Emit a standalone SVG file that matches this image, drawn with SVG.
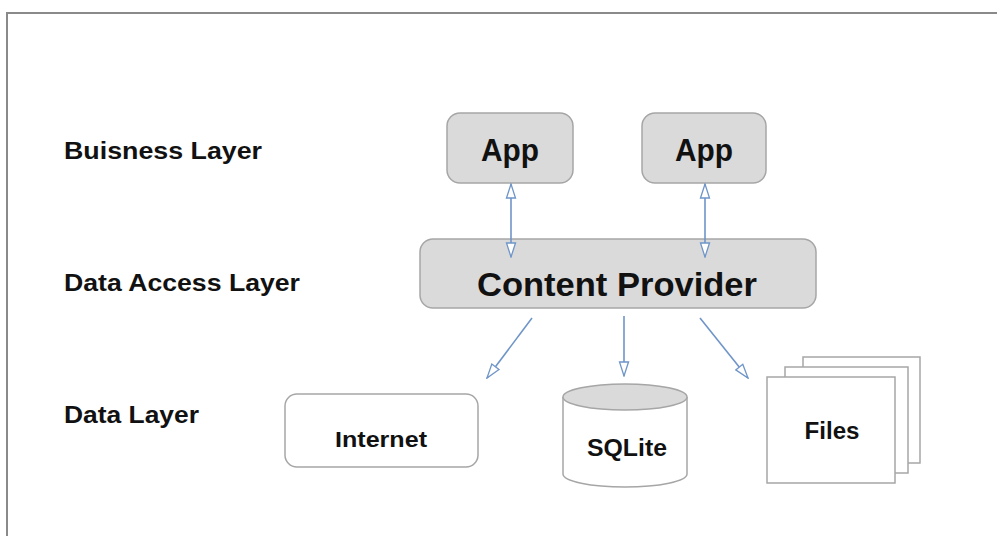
<svg xmlns="http://www.w3.org/2000/svg" width="997" height="536" viewBox="0 0 997 536">
  <defs>
    <marker id="open-tri-lg" viewBox="0 0 16 12" refX="15" refY="6" markerWidth="16" markerHeight="12" markerUnits="userSpaceOnUse" orient="auto-start-reverse">
      <path d="M1,1.5 L15,6 L1,10.5 Z" fill="#ffffff" stroke="#6f95c8" stroke-width="1.3"/>
    </marker>
  </defs>
  <style>
    .frame { fill: #ffffff; stroke: #8a8a8a; stroke-width: 2; }
    .box { fill: #dadada; stroke: #a6a6a6; stroke-width: 1.5; }
    .plain { fill: #ffffff; stroke: #a6a6a6; stroke-width: 1.5; }
    .label { font-family: "Liberation Sans", Arial, sans-serif; font-weight: bold; fill: #111111; }
    .link { fill: none; stroke: #6f95c8; stroke-width: 1.6; }
  </style>

  <rect x="0" y="0" width="997" height="536" fill="#ffffff"/>
  <path class="frame" d="M7,540 L7,13 L1000,13"/>

  <!-- layer captions -->
  <g id="layer-labels">
    <text class="label" x="64" y="159" font-size="23.5" textLength="198" lengthAdjust="spacingAndGlyphs">Buisness Layer</text>
    <text class="label" x="64" y="291" font-size="23.5" textLength="236" lengthAdjust="spacingAndGlyphs">Data Access Layer</text>
    <text class="label" x="64" y="423" font-size="23.5" textLength="135" lengthAdjust="spacingAndGlyphs">Data Layer</text>
  </g>

  <g id="app1">
    <rect class="box" x="447" y="113" width="126" height="70" rx="13"/>
    <text class="label" x="510" y="161" font-size="32" text-anchor="middle" textLength="58" lengthAdjust="spacingAndGlyphs">App</text>
  </g>

  <g id="app2">
    <rect class="box" x="642" y="113" width="124" height="70" rx="13"/>
    <text class="label" x="704" y="161" font-size="32" text-anchor="middle" textLength="58" lengthAdjust="spacingAndGlyphs">App</text>
  </g>

  <g id="content-provider">
    <rect class="box" x="420" y="239" width="396" height="69" rx="13"/>
    <text class="label" x="617" y="296" font-size="33" text-anchor="middle" textLength="280" lengthAdjust="spacingAndGlyphs">Content Provider</text>
  </g>

  <g id="internet">
    <rect class="plain" x="285" y="394" width="193" height="73" rx="12"/>
    <text class="label" x="381" y="447" font-size="22" text-anchor="middle" textLength="92" lengthAdjust="spacingAndGlyphs">Internet</text>
  </g>

  <g id="sqlite">
    <path class="plain" d="M563,397 L563,474 A62,13 0 0 0 687,474 L687,397"/>
    <ellipse cx="625" cy="397" rx="62" ry="13" fill="#dadada" stroke="#a6a6a6" stroke-width="1.5"/>
    <text class="label" x="627" y="456" font-size="24" text-anchor="middle" textLength="80" lengthAdjust="spacingAndGlyphs">SQLite</text>
  </g>

  <g id="files">
    <rect class="plain" x="803" y="357" width="117" height="106"/>
    <rect class="plain" x="785" y="367" width="123" height="106"/>
    <rect class="plain" x="767" y="377" width="128" height="106"/>
    <text class="label" x="832" y="439" font-size="23" text-anchor="middle" textLength="55" lengthAdjust="spacingAndGlyphs">Files</text>
  </g>

  <g id="connectors">
    <line class="link" x1="511" y1="184" x2="511" y2="257" marker-start="url(#open-tri-lg)" marker-end="url(#open-tri-lg)"/>
    <line class="link" x1="705" y1="184" x2="705" y2="257" marker-start="url(#open-tri-lg)" marker-end="url(#open-tri-lg)"/>
    <line class="link" x1="532" y1="318" x2="487" y2="378" marker-end="url(#open-tri-lg)"/>
    <line class="link" x1="624" y1="316" x2="624" y2="376" marker-end="url(#open-tri-lg)"/>
    <line class="link" x1="700" y1="318" x2="748" y2="378" marker-end="url(#open-tri-lg)"/>
  </g>
</svg>
